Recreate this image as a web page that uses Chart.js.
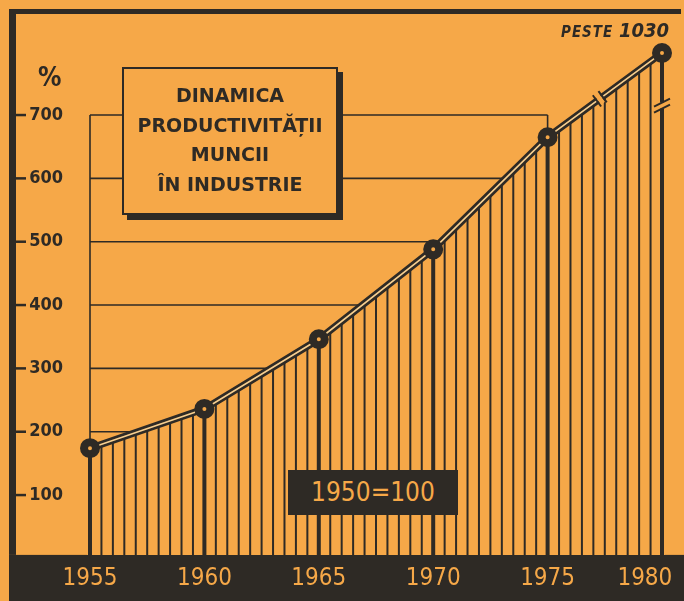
<!DOCTYPE html>
<html lang="ro">
<head>
<meta charset="utf-8">
<title>Dinamica productivității muncii în industrie</title>
<script src="https://cdn.jsdelivr.net/npm/chart.js@4.4.1/dist/chart.umd.min.js"></script>
<style>
  body { margin: 0; background: #F6A848; }
  #wrap { position: relative; width: 684px; height: 601px; overflow: hidden; }
  canvas { position: absolute; left: 0; top: 0; }
  .title-box {
    position: absolute; left: 122px; top: 67px; width: 216px; height: 148px;
    box-sizing: border-box; border: 2px solid #2E2A25; background: #F6A848;
    box-shadow: 5px 5px 0 #2E2A25; padding-top: 12px; text-align: center;
    font: bold 19px/29.5px "DejaVu Sans", sans-serif; color: #2E2A25;
  }
  .base-box {
    position: absolute; left: 288px; top: 470px; width: 170px; height: 45px;
    background: #2E2A25; color: #F6A848; text-align: center;
    font: 26px/45px "DejaVu Sans Condensed", sans-serif;
  }
  .peste {
    position: absolute; left: 561px; top: 20px; line-height: 21px; white-space: nowrap;
    font-family: "DejaVu Sans Condensed", sans-serif; font-style: italic; font-weight: bold; color: #2E2A25;
  }
  .peste .w { font-size: 15px; letter-spacing: 1px; }
  .peste .n { font-size: 20px; }
  .pct {
    position: absolute; left: 38px; top: 64px;
    font: bold 26px/27px "DejaVu Sans Condensed", sans-serif; color: #2E2A25;
  }
</style>
</head>
<body>
<div id="wrap">
  <canvas id="chart" width="684" height="601"></canvas>
  <div class="title-box">DINAMICA<br>PRODUCTIVITĂȚII<br>MUNCII<br>ÎN INDUSTRIE</div>
  <div class="base-box">1950=100</div>
  <div class="peste"><span class="w">PESTE </span><span class="n">1030</span></div>
  <div class="pct">%</div>
</div>
<script>
const years = [1955, 1960, 1965, 1970, 1975, 1980];
// index 1950 = 100; the 1980 point sits above the axis break (real value: over 1030)
const productivity = [174, 236, 346, 488, 665, 798];
const yTickValues = [100, 200, 300, 400, 500, 600, 700];
const xTickValues = [1955, 1960, 1965, 1970, 1975, 1980];
const gridFrom = 1955;
const gridTo = 1975;
const breakLevel = 715;

const ORANGE = "#F6A848";
const DARK = "#2E2A25";
const PALE = "#F8CF8E";

const points = years.map((x, i) => ({ x, y: productivity[i] }));

function curvePath(ctx, pts, bottom) {
  ctx.beginPath();
  ctx.moveTo(pts[0].x - 3, bottom);
  ctx.lineTo(pts[0].x - 3, pts[0].y);
  pts.forEach(p => ctx.lineTo(p.x, p.y));
  ctx.lineTo(pts[pts.length - 1].x + 3, pts[pts.length - 1].y);
  ctx.lineTo(pts[pts.length - 1].x + 3, bottom);
  ctx.closePath();
}

const paper = {
  id: "paper",
  beforeDraw(chart) {
    const { ctx, chartArea, scales: { y } } = chart;
    const bandTop = chartArea.bottom - 3.5;
    ctx.save();
    ctx.fillStyle = ORANGE;
    ctx.fillRect(0, 0, chart.width, chart.height);
    ctx.fillStyle = DARK;
    ctx.fillRect(9, bandTop, chart.width - 9, chart.height - bandTop);
    ctx.fillRect(9, 10, 7, bandTop - 10);
    ctx.fillRect(9, 9, 672, 5);
    ctx.strokeStyle = DARK;
    ctx.lineWidth = 2.5;
    yTickValues.forEach(v => {
      const py = y.getPixelForValue(v);
      ctx.beginPath();
      ctx.moveTo(15, py);
      ctx.lineTo(26, py);
      ctx.stroke();
    });
    ctx.restore();
  },
  beforeDatasetsDraw(chart) {
    const { ctx, chartArea, scales: { x, y } } = chart;
    const bandTop = chartArea.bottom - 3.5;
    const pts = chart.getDatasetMeta(2).data;
    const x0 = x.getPixelForValue(gridFrom);
    const x1 = x.getPixelForValue(gridTo);
    ctx.save();
    // frame and horizontal lines behind the curve
    ctx.strokeStyle = DARK;
    ctx.lineWidth = 1.6;
    yTickValues.forEach(v => {
      const py = y.getPixelForValue(v);
      ctx.beginPath();
      ctx.moveTo(x0, py);
      ctx.lineTo(x1, py);
      ctx.stroke();
    });
    [x0, x1].forEach(px => {
      ctx.beginPath();
      ctx.moveTo(px, y.getPixelForValue(0));
      ctx.lineTo(px, y.getPixelForValue(700));
      ctx.stroke();
    });
    // area under the curve, hatched
    curvePath(ctx, pts, bandTop);
    ctx.fillStyle = ORANGE;
    ctx.fill();
    ctx.clip();
    for (let k = 0; k <= 50; k++) {
      const yr = years[0] + k * 0.5;
      const px = x.getPixelForValue(yr);
      ctx.lineWidth = k % 10 === 0 ? 4 : 2;
      ctx.beginPath();
      ctx.moveTo(px, chartArea.top - 10);
      ctx.lineTo(px, bandTop + 5);
      ctx.stroke();
    }
    ctx.restore();
  },
  afterDatasetsDraw(chart) {
    const { ctx, scales: { y } } = chart;
    const pts = chart.getDatasetMeta(2).data;
    const a = pts[4], b = pts[5];
    const len = Math.hypot(b.x - a.x, b.y - a.y);
    const dx = (b.x - a.x) / len, dy = (b.y - a.y) / len;
    const nx = -dy, ny = dx;
    const cx = a.x + (b.x - a.x) * 0.456, cy = a.y + (b.y - a.y) * 0.456;
    ctx.save();
    ctx.lineCap = "butt";
    ctx.strokeStyle = ORANGE;
    ctx.lineWidth = 11;
    ctx.beginPath();
    ctx.moveTo(cx - dx * 2.5, cy - dy * 2.5);
    ctx.lineTo(cx + dx * 2.5, cy + dy * 2.5);
    ctx.stroke();
    ctx.strokeStyle = DARK;
    ctx.lineWidth = 2;
    [-3.5, 3.5].forEach(o => {
      ctx.beginPath();
      ctx.moveTo(cx + dx * o - nx * 7, cy + dy * o - ny * 7);
      ctx.lineTo(cx + dx * o + nx * 7, cy + dy * o + ny * 7);
      ctx.stroke();
    });
    // break on the 1980 vertical
    const vx = b.x, vy = y.getPixelForValue(breakLevel);
    ctx.strokeStyle = ORANGE;
    ctx.lineWidth = 4;
    ctx.beginPath();
    ctx.moveTo(vx, vy - 3);
    ctx.lineTo(vx, vy + 3);
    ctx.stroke();
    ctx.strokeStyle = DARK;
    ctx.lineWidth = 2;
    [-3, 3].forEach(o => {
      ctx.beginPath();
      ctx.moveTo(vx - 8, vy + o + 4);
      ctx.lineTo(vx + 8, vy + o - 4);
      ctx.stroke();
    });
    ctx.restore();
  }
};

new Chart(document.getElementById("chart"), {
  type: "line",
  data: {
    datasets: [
      {
        data: points, showLine: false, clip: false,
        pointRadius: 6, pointBorderWidth: 8,
        pointBorderColor: DARK, pointBackgroundColor: ORANGE
      },
      {
        data: points, clip: false, borderColor: PALE, borderWidth: 1.6,
        pointRadius: 0, tension: 0
      },
      {
        data: points, clip: false, borderColor: DARK, borderWidth: 7,
        pointRadius: 0, tension: 0
      }
    ]
  },
  options: {
    responsive: false,
    animation: false,
    events: [],
    layout: { padding: { top: 51.7, right: 22, left: 0, bottom: 0 } },
    plugins: { legend: { display: false }, tooltip: { enabled: false } },
    scales: {
      x: {
        type: "linear", min: 1955, max: 1980,
        afterBuildTicks: s => { s.ticks = xTickValues.map(v => ({ value: v })); },
        afterFit: s => { s.height = 42.6; s.paddingLeft = 0; s.paddingRight = 0; },
        grid: { display: false, drawTicks: false },
        border: { display: false },
        ticks: {
          padding: 6, color: ORANGE, maxRotation: 0, autoSkip: false,
          font: { family: "DejaVu Sans Condensed", size: 24 },
          callback: v => v === 1980 ? "1980\u00a0\u00a0\u00a0\u00a0\u00a0" : String(v)
        }
      },
      y: {
        min: 0, max: 800,
        afterBuildTicks: s => { s.ticks = yTickValues.map(v => ({ value: v })); },
        afterFit: s => { s.width = 90; },
        grid: { display: false, drawTicks: false },
        border: { display: false },
        ticks: {
          padding: 27, color: DARK,
          font: { family: "DejaVu Sans Condensed", size: 18, weight: "bold" }
        }
      }
    }
  },
  plugins: [paper]
});
</script>
</body>
</html>
